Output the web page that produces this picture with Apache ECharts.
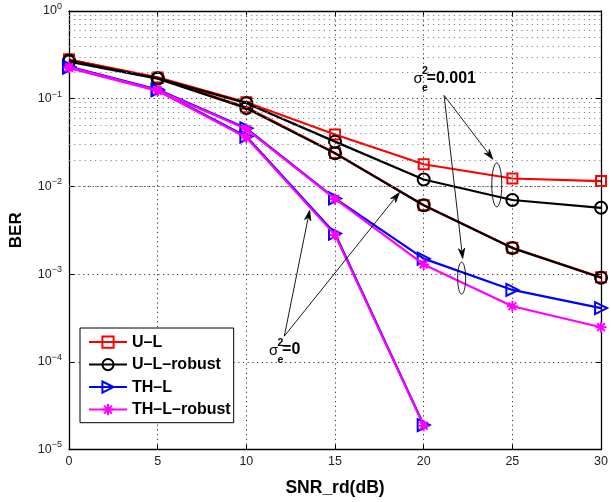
<!DOCTYPE html>
<html>
<head>
<meta charset="utf-8">
<script src="https://cdn.jsdelivr.net/npm/echarts@6/dist/echarts.min.js"></script>
<style>html,body{margin:0;padding:0;background:#fff}#c{width:611px;height:502px}</style>
</head>
<body>
<div id="c"></div>
<script>
// ---- data ----
const snr = [0, 5, 10, 15, 20, 25, 30];
const snrShort = [0, 5, 10, 15, 20];
const xTicks = [0, 5, 10, 15, 20, 25, 30];
const yTicks = [1e-5, 1e-4, 1e-3, 1e-2, 1e-1, 1];

const ul_e001 = [0.28, 0.175, 0.091, 0.039, 0.0179, 0.0123, 0.0115];
const ul_e0 = [0.28, 0.172, 0.080, 0.0240, 0.0061, 0.0020, 0.00092];
const ulr_e001 = [0.272, 0.171, 0.089, 0.0324, 0.0120, 0.0070, 0.0057];
const ulr_e0 = [0.265, 0.169, 0.078, 0.0238, 0.0061, 0.00198, 0.00091];
const thl_e001 = [0.232, 0.127, 0.046, 0.0073, 0.00150, 0.00066, 0.00041];
const thl_e0 = [0.226, 0.125, 0.037, 0.0029, 1.9e-5];
const thlr_e001 = [0.229, 0.125, 0.045, 0.0072, 0.00129, 0.00043, 0.000248];
const thlr_e0 = [0.225, 0.123, 0.0362, 0.0028, 1.87e-5];

const names = ['U–L', 'U–L–robust', 'TH–L', 'TH–L–robust'];
const colors = ['#ff0000', '#000000', '#0000ff', '#ff00ff'];
const symbols = ['rect', 'circle', 'path://M0 0L10 5L0 10Z',
  'path://M5 0L5 10M0 5L10 5M1.46 1.46L8.54 8.54M1.46 8.54L8.54 1.46'];
const symSizes = [10, 12, 12, 11];

// annotations (data coordinates)
const annoLabels = [
  { text: '=0.001', anchor: [19.43, 0.1483] },
  { text: '=0', anchor: [11.28, 1.18e-4] }
];
const arrows = [
  { from: [21.15, 0.109], to: [23.9, 0.0204] },
  { from: [21.15, 0.109], to: [22.2, 0.00151] },
  { from: [12.14, 1.96e-4], to: [13.57, 0.00533] },
  { from: [12.14, 1.96e-4], to: [18.63, 0.0085] }
];
const ellipses = [
  { c: [24.12, 0.0104], rx: 5, ry: 22 },
  { c: [22.14, 0.0009], rx: 4, ry: 16 }
];

// minor grid values
const decades = [1e-5, 1e-4, 1e-3, 1e-2, 1e-1];
const minorVals = [];
decades.forEach(d => { for (let k = 2; k <= 9; k++) minorVals.push(+(d * k).toPrecision(3)); });

function pairs(xs, ys) { return ys.map((y, i) => [xs[i], y]); }

const FONT = '"Liberation Sans", Arial, Helvetica, sans-serif';

function mk(idx, xs, ys, extra) {
  const s = {
    name: names[idx], type: 'line', data: pairs(xs, ys),
    symbol: symbols[idx], symbolSize: symSizes[idx], showSymbol: true,
    lineStyle: { color: colors[idx], width: 2.2 },
    itemStyle: { color: 'none', borderColor: colors[idx], borderWidth: 2 },
    emphasis: { disabled: true }, silent: true, z: 3 + idx
  };
  return Object.assign(s, extra || {});
}

const series = [
  mk(0, snr, ul_e0, {
    markLine: {
      silent: true, symbol: 'none', label: { show: false }, animation: false,
      lineStyle: { color: '#888', type: [1.2, 4], width: 1 },
      data: minorVals.map(v => ({ yAxis: v }))
    }, z: 2
  }),
  mk(0, snr, ul_e001),
  mk(1, snr, ulr_e0),
  mk(1, snr, ulr_e001),
  mk(2, snrShort, thl_e0),
  mk(2, snr, thl_e001),
  mk(3, snrShort, thlr_e0),
  mk(3, snr, thlr_e001)
];

const chart = echarts.init(document.getElementById('c'), null, { renderer: 'canvas' });
const sup = { b: { fontSize: 12.5, fontFamily: FONT, color: '#222' }, s: { fontSize: 9, fontFamily: FONT, color: '#222', padding: [0, 0, 9, 0] } };

chart.setOption({
  animation: false,
  backgroundColor: '#fff',
  grid: { left: 58, right: 7, top: 11, bottom: 44.5 },
  legend: {
    data: names, orient: 'vertical', left: 80, top: 328,
    backgroundColor: '#fff', borderColor: '#000', borderWidth: 1,
    padding: [6, 3, 5, 8], itemWidth: 38, itemHeight: 14, itemGap: 6.3,
    textStyle: { fontFamily: FONT, fontWeight: 'bold', fontSize: 16, color: '#000' },
    selectedMode: false
  },
  xAxis: [{
    type: 'value', min: 0, max: 30, interval: 5,
    name: 'SNR_rd(dB)', nameLocation: 'middle', nameGap: 29.5,
    nameTextStyle: { fontFamily: FONT, fontWeight: 'bold', fontSize: 17.5, color: '#000' },
    axisLine: { onZero: false, lineStyle: { color: '#000', width: 1.3 } },
    axisTick: { inside: true, length: 5, lineStyle: { color: '#000' } },
    axisLabel: { fontFamily: FONT, fontSize: 12.5, color: '#222', margin: 6, customValues: xTicks },
    splitLine: { show: true, lineStyle: { color: '#333', type: [1.2, 3.5], width: 1 } }
  }, {
    type: 'value', min: 0, max: 30, interval: 5, position: 'top',
    axisLine: { onZero: false, lineStyle: { color: '#000', width: 1.3 } },
    axisTick: { inside: true, length: 5, lineStyle: { color: '#000' } },
    axisLabel: { show: false }, splitLine: { show: false }
  }],
  yAxis: [{
    type: 'log', logBase: 10, min: 1e-5, max: 1,
    name: 'BER', nameLocation: 'middle', nameGap: 44, nameRotate: 90,
    nameTextStyle: { fontFamily: FONT, fontWeight: 'bold', fontSize: 17, color: '#000' },
    axisLine: { onZero: false, lineStyle: { color: '#000', width: 1.3 } },
    axisTick: { inside: true, length: 5, lineStyle: { color: '#000' } },
    axisLabel: {
      margin: 7, rich: sup,
      formatter: v => { const e = Math.round(Math.log10(v)); return '{b|10}{s|' + (e < 0 ? '−' + (-e) : e) + '}'; }
    },
    splitLine: { show: true, lineStyle: { color: '#333', type: [1.2, 3.5], width: 1 } }
  }, {
    type: 'log', logBase: 10, min: 1e-5, max: 1, position: 'right',
    axisLine: { onZero: false, lineStyle: { color: '#000', width: 1.3 } },
    axisTick: { inside: true, length: 5, lineStyle: { color: '#000' } },
    axisLabel: { show: false }, splitLine: { show: false }
  }],
  series: series
});

// ---- annotations ----
function px(p) { return chart.convertToPixel({ xAxisIndex: 0, yAxisIndex: 0 }, p); }
const g = [];
annoLabels.forEach(a => {
  const p = px(a.anchor);
  const base = { fill: '#000', fontFamily: FONT, verticalAlign: 'middle', align: 'left' };
  g.push({ type: 'text', x: p[0], y: p[1] - 5, z: 50, style: Object.assign({}, base, { text: 'σ', fontSize: 15 }) });
  g.push({ type: 'text', x: p[0] + 8.5, y: p[1] - 12.5, z: 50, style: Object.assign({}, base, { text: '2', fontSize: 10.5, fontWeight: 'bold' }) });
  g.push({ type: 'text', x: p[0] + 8.5, y: p[1] + 4.5, z: 50, style: Object.assign({}, base, { text: 'e', fontSize: 10.5, fontWeight: 'bold' }) });
  g.push({ type: 'text', x: p[0] + 13, y: p[1] - 5.5, z: 50, style: Object.assign({}, base, { text: a.text, fontSize: 16, fontWeight: 'bold' }) });
});
arrows.forEach(a => {
  const s = px(a.from), t = px(a.to);
  const dx = t[0] - s[0], dy = t[1] - s[1], L = Math.hypot(dx, dy);
  const ux = dx / L, uy = dy / L, nx = -uy, ny = ux;
  const hl = 10, hw = 3.2;
  g.push({ type: 'line', z: 50, shape: { x1: s[0], y1: s[1], x2: t[0] - ux * 4, y2: t[1] - uy * 4 }, style: { stroke: '#000', lineWidth: 0.9 } });
  g.push({ type: 'polygon', z: 50, shape: { points: [
    [t[0], t[1]],
    [t[0] - ux * hl + nx * hw, t[1] - uy * hl + ny * hw],
    [t[0] - ux * hl * 0.7, t[1] - uy * hl * 0.7],
    [t[0] - ux * hl - nx * hw, t[1] - uy * hl - ny * hw]
  ] }, style: { fill: '#000', stroke: '#000', lineWidth: 0.8 } });
});
ellipses.forEach(e => {
  const c = px(e.c);
  g.push({ type: 'ellipse', z: 50, shape: { cx: c[0], cy: c[1], rx: e.rx, ry: e.ry }, style: { fill: 'none', stroke: '#000', lineWidth: 0.9 } });
});
chart.setOption({ graphic: g });
</script>
</body>
</html>
